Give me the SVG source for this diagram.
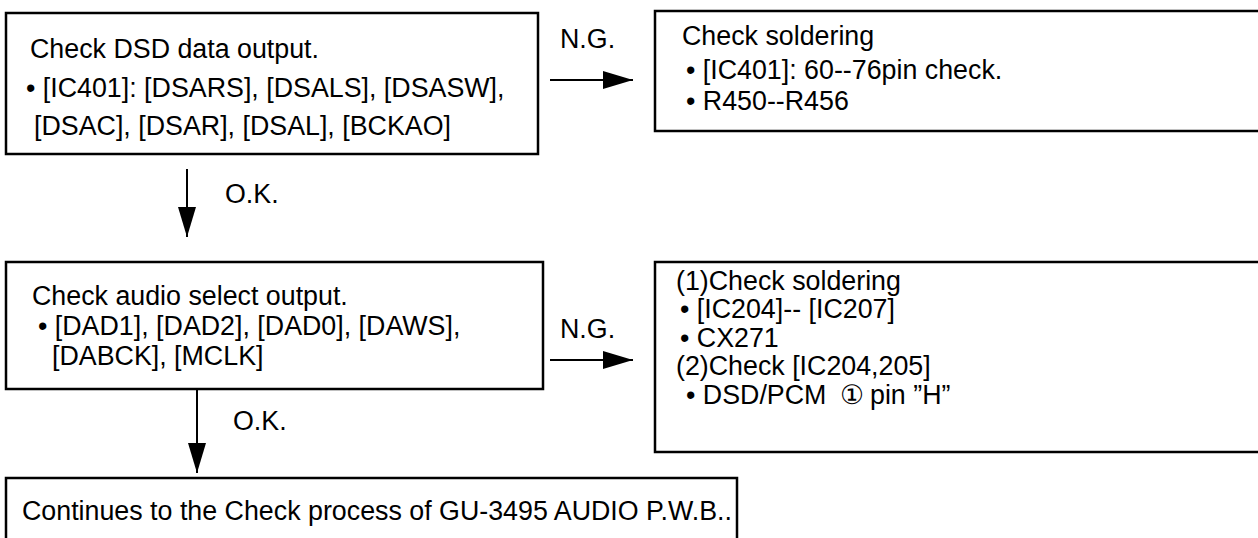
<svg xmlns="http://www.w3.org/2000/svg" width="1258" height="538" viewBox="0 0 1258 538">
<style>
.t{font-family:"Liberation Sans",Arial,"DejaVu Sans",sans-serif;font-size:26.8px;fill:#000}
.box{fill:#fff;stroke:#000;stroke-width:2.5}
.ln{stroke:#000;stroke-width:2;fill:none}
</style>
<defs>
<marker id="ah" viewBox="0 0 30 18" refX="30" refY="9" markerWidth="30" markerHeight="18" markerUnits="userSpaceOnUse" orient="auto">
<path d="M0,0 L30,9 L0,18 z" fill="#000"/>
</marker>
</defs>
<rect width="1258" height="538" fill="#fff"/>
<g id="n1">
<rect class="box" x="6" y="13" width="532" height="141"/>
<text class="t" x="30" y="58">Check DSD data output.</text>
<text class="t" x="26" y="97">• [IC401]: [DSARS], [DSALS], [DSASW],</text>
<text class="t" x="34" y="135">[DSAC], [DSAR], [DSAL], [BCKAO]</text>
</g>
<g id="n2">
<rect class="box" x="655" y="11" width="620" height="120"/>
<text class="t" x="682" y="45">Check soldering</text>
<text class="t" x="686" y="79">• [IC401]: 60--76pin check.</text>
<text class="t" x="686" y="110">• R450--R456</text>
</g>
<g id="n3">
<rect class="box" x="6" y="262" width="537" height="127"/>
<text class="t" x="32" y="305">Check audio select output.</text>
<text class="t" x="38" y="335">•  [DAD1], [DAD2], [DAD0], [DAWS],</text>
<text class="t" x="52" y="365">[DABCK], [MCLK]</text>
</g>
<g id="n4">
<rect class="box" x="655" y="262" width="620" height="190"/>
<text class="t" x="676" y="290">(1)Check soldering</text>
<text class="t" x="680" y="318">• [IC204]-- [IC207]</text>
<text class="t" x="680" y="347">• CX271</text>
<text class="t" x="676" y="375">(2)Check [IC204,205]</text>
<text class="t" x="686" y="404">• DSD/PCM<tspan x="840">①</tspan><tspan x="870">pin ”H”</tspan></text>
</g>
<g id="n5">
<rect class="box" x="6" y="478" width="731" height="80"/>
<text class="t" x="22" y="520">Continues to the Check process of GU-3495 AUDIO P.W.B..</text>
</g>
<g id="connectors">
<line class="ln" x1="550" y1="80" x2="633" y2="80" marker-end="url(#ah)"/>
<text class="t" x="560" y="48">N.G.</text>
<line class="ln" x1="187" y1="169" x2="187" y2="237" marker-end="url(#ah)"/>
<text class="t" x="225" y="203">O.K.</text>
<line class="ln" x1="550" y1="360" x2="633" y2="360" marker-end="url(#ah)"/>
<text class="t" x="560" y="338">N.G.</text>
<line class="ln" x1="197" y1="390" x2="197" y2="473" marker-end="url(#ah)"/>
<text class="t" x="233" y="430">O.K.</text>
</g>
</svg>
